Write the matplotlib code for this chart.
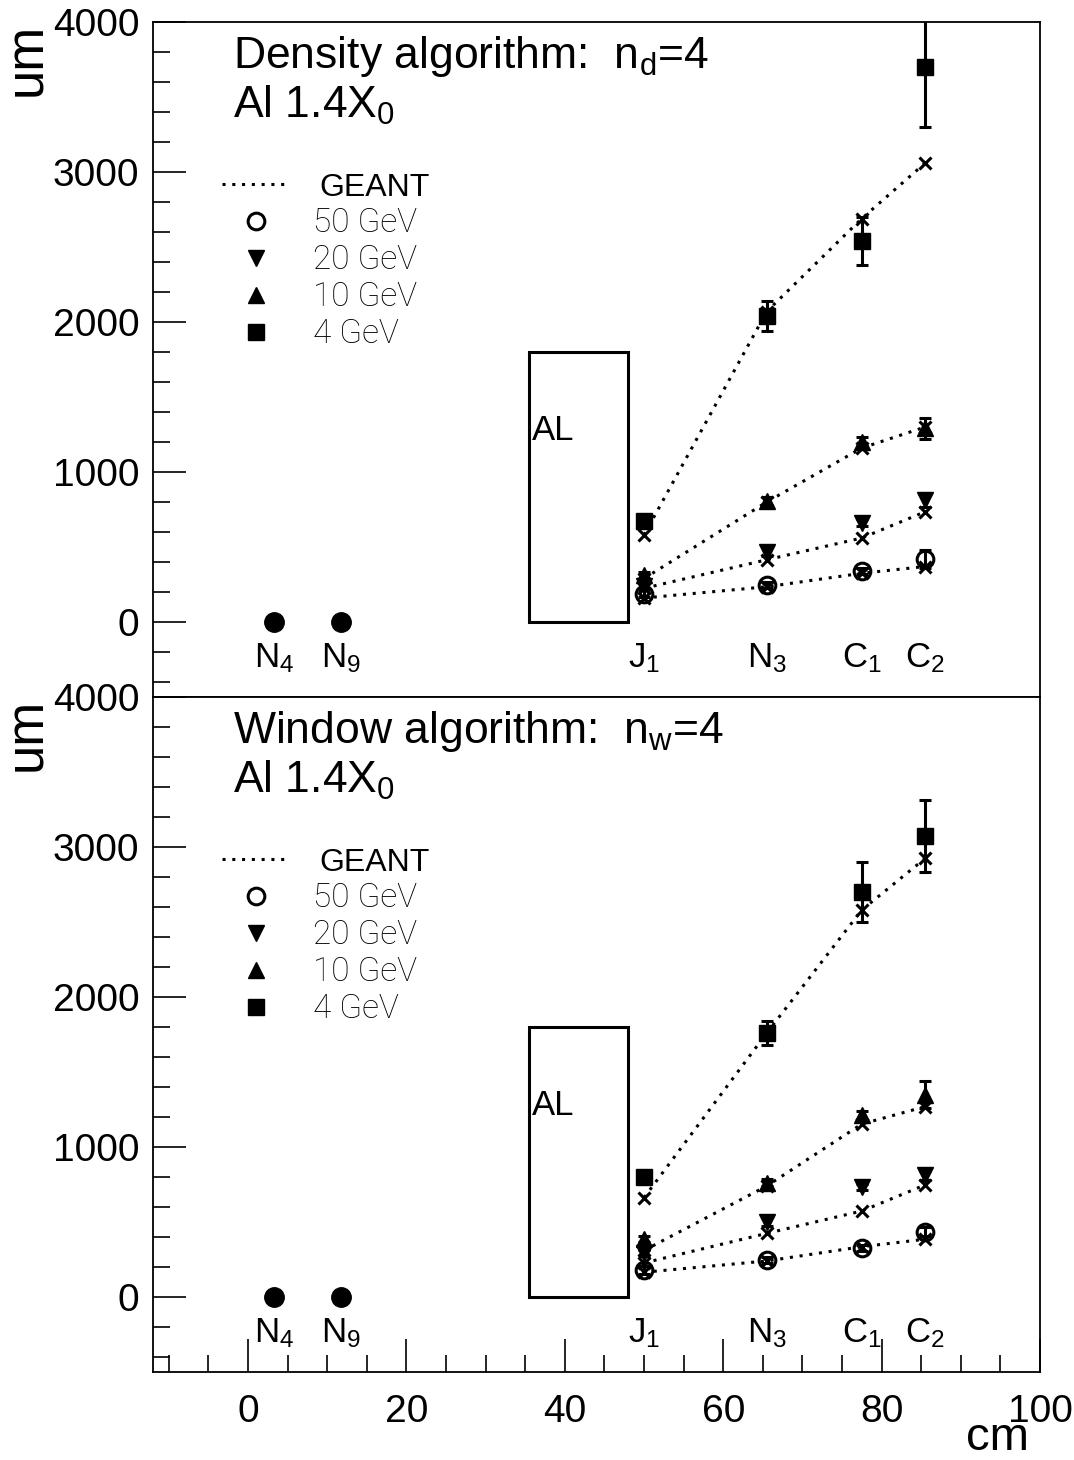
import matplotlib
matplotlib.use("Agg")
import matplotlib.pyplot as plt
from matplotlib.lines import Line2D
from matplotlib.patches import Rectangle
from matplotlib.ticker import MultipleLocator

plt.rcParams['font.family'] = ['Liberation Sans', 'DejaVu Sans']
plt.rcParams['mathtext.default'] = 'regular'

# detector planes (cm)
det_names = ['N$_4$', 'N$_9$', 'J$_1$', 'N$_3$', 'C$_1$', 'C$_2$']
det_z = [3.3, 11.7, 50.0, 65.5, 77.5, 85.5]
ref_z = det_z[:2]
ref_val = [0, 0]
meas_z = det_z[2:]

# absorber
al_z0, al_z1, al_h = 35.5, 48.0, 1800

energies = ['50 GeV', '20 GeV', '10 GeV', '4 GeV']

# density algorithm (um)
dens_val = {
    '50 GeV': [190, 247, 342, 418],
    '20 GeV': [240, 469, 662, 813],
    '10 GeV': [313, 807, 1202, 1291],
    '4 GeV': [673, 2040, 2542, 3700],
}
dens_err = {
    '50 GeV': [25, 20, 20, 60],
    '20 GeV': [20, 30, 25, 45],
    '10 GeV': [20, 25, 30, 70],
    '4 GeV': [25, 100, 160, 400],
}
dens_geant = {
    '50 GeV': [160, 235, 325, 370],
    '20 GeV': [225, 415, 560, 735],
    '10 GeV': [290, 800, 1160, 1300],
    '4 GeV': [580, 2070, 2690, 3060],
}

# window algorithm (um)
win_val = {
    '50 GeV': [180, 247, 329, 435],
    '20 GeV': [291, 502, 736, 813],
    '10 GeV': [384, 762, 1213, 1347],
    '4 GeV': [802, 1762, 2698, 3073],
}
win_err = {
    '50 GeV': [25, 20, 20, 30],
    '20 GeV': [20, 30, 20, 30],
    '10 GeV': [20, 25, 30, 90],
    '4 GeV': [20, 80, 200, 240],
}
win_geant = {
    '50 GeV': [165, 240, 335, 385],
    '20 GeV': [227, 424, 573, 747],
    '10 GeV': [310, 740, 1153, 1269],
    '4 GeV': [662, 1760, 2580, 2924],
}

styles = {
    '50 GeV': dict(marker='o', mfc='none', mec='black', ms=12, mew=2.2),
    '20 GeV': dict(marker='v', mfc='black', mec='black', ms=12),
    '10 GeV': dict(marker='^', mfc='black', mec='black', ms=12),
    '4 GeV': dict(marker='s', mfc='black', mec='black', ms=11),
}
dots = (0, (1, 2.2))


def draw_panel(ax, vals, errs, geant, title):
    ax.set_xlim(-12, 100)
    ax.set_ylim(-500, 4000)
    ax.add_patch(Rectangle((al_z0, 0), al_z1 - al_z0, al_h, fill=False,
                           lw=2.2, ec='black'))
    ax.text(al_z0 + 0.3, al_h * 0.71, 'AL', fontsize=25, va='center')
    for e in energies:
        ax.plot(meas_z, geant[e], ls=dots, lw=2.2, color='black',
                marker='x', ms=9, mew=2.2)
    for e in energies:
        ax.errorbar(meas_z, vals[e], yerr=errs[e], ls='none', ecolor='black',
                    elinewidth=2.2, capsize=4, capthick=2.2, **styles[e])
    ax.plot(ref_z, ref_val, ls='none', marker='o', ms=14, color='black')
    for z, n in zip(det_z, det_names):
        ax.text(z, -240, n, fontsize=25, ha='center', va='center')

    ax.text(0.09, 0.949, title, transform=ax.transAxes, fontsize=32,
            va='center')
    ax.text(0.09, 0.876, 'Al 1.4X$_0$', transform=ax.transAxes, fontsize=32,
            va='center')

    handles = [Line2D([], [], ls=dots, lw=2.2, color='black')]
    handles += [Line2D([], [], ls='none', **styles[e]) for e in energies]
    leg = ax.legend(handles, ['GEANT'] + energies, loc='upper left',
                    bbox_to_anchor=(0.078, 0.777), frameon=False,
                    fontsize=23, handlelength=2.1, handletextpad=0.75,
                    labelspacing=0.15, borderpad=0, borderaxespad=0)
    leg.get_texts()[0].set_position((6, 0))
    for t in leg.get_texts()[1:]:
        t.set_family(['Roboto', 'Liberation Sans'])
        t.set_fontweight('light')
        t.set_fontsize(24)
        t.set_color('black')

    ax.yaxis.set_major_locator(MultipleLocator(1000))
    ax.yaxis.set_minor_locator(MultipleLocator(200))
    ax.xaxis.set_major_locator(MultipleLocator(20))
    ax.xaxis.set_minor_locator(MultipleLocator(5))
    ax.tick_params(axis='y', which='major', direction='in', length=24,
                   width=1.2, labelsize=28, pad=10)
    ax.tick_params(axis='y', which='minor', direction='in', length=12,
                   width=1.2)
    ax.tick_params(axis='x', which='major', direction='in', length=24,
                   width=1.2, labelsize=28, pad=16)
    ax.tick_params(axis='x', which='minor', direction='in', length=12,
                   width=1.2)
    for s in ax.spines.values():
        s.set_linewidth(1.3)


fig = plt.figure(figsize=(10.74, 14.60), dpi=100)
ax_top = fig.add_axes([0.1425, 0.5226, 0.8258, 0.4623])
ax_bot = fig.add_axes([0.1425, 0.0603, 0.8258, 0.4623])

draw_panel(ax_top, dens_val, dens_err, dens_geant,
           'Density algorithm:  n$_d$=4')
draw_panel(ax_bot, win_val, win_err, win_geant,
           'Window algorithm:  n$_w$=4')

ax_top.tick_params(axis='x', which='both', bottom=False, labelbottom=False)

fig.text(0.025, 0.959, 'um', rotation=90, fontsize=38, ha='center',
         va='center')
fig.text(0.025, 0.497, 'um', rotation=90, fontsize=38, ha='center',
         va='center')
fig.text(0.929, 0.015, 'cm', fontsize=34, ha='center', va='center')

fig.savefig('out.png', dpi=100)
